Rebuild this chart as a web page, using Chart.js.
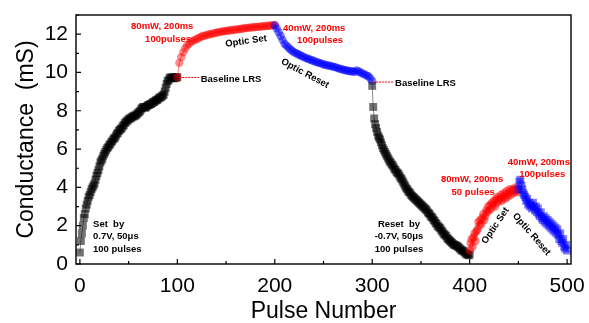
<!DOCTYPE html>
<html>
<head>
<meta charset="utf-8">
<script src="https://cdn.jsdelivr.net/npm/chart.js@4"></script>
<style>
  body { margin: 0; background: #fff; }
  #wrap { width: 589px; height: 323px; position: relative; }
</style>
</head>
<body>
<div id="wrap"><canvas id="pulse_chart"></canvas></div>
<script>
// ---- data ----
// electrical set, 0.7V 50us, pulses 0..100 (step 1)
var setStart = 0, setStep = 1;
var setValues = [0.6, 1.2, 1.6, 2.0, 2.4, 2.6, 2.9, 3.1, 3.3, 3.5,
  3.6, 3.75, 3.9, 4.0, 4.1, 4.2, 4.4, 4.6, 4.75, 4.9,
  5.1, 5.3, 5.4, 5.5, 5.65, 5.75, 5.85, 5.95, 6.05, 6.1,
  6.2, 6.25, 6.35, 6.4, 6.5, 6.55, 6.6, 6.7, 6.8, 6.85,
  6.95, 7.0, 7.05, 7.1, 7.2, 7.25, 7.35, 7.4, 7.45, 7.5,
  7.55, 7.6, 7.6, 7.65, 7.7, 7.7, 7.75, 7.75, 7.8, 7.85,
  7.9, 7.95, 8.0, 8.1, 8.15, 8.2, 8.2, 8.15, 8.2, 8.25,
  8.3, 8.3, 8.35, 8.35, 8.4, 8.45, 8.45, 8.5, 8.55, 8.55,
  8.6, 8.65, 8.7, 8.7, 8.75, 8.8, 8.85, 9.0, 9.2, 9.4,
  9.55, 9.6, 9.7, 9.75, 9.7, 9.75, 9.7, 9.75, 9.7, 9.75, 9.75];

// optic set 80mW, pulses 100..200 (step 2)
var optSetStart = 100, optSetStep = 2;
var optSetValues = [9.75, 10.5, 10.8, 11.05, 11.25, 11.4, 11.5, 11.6, 11.65, 11.7,
  11.75, 11.8, 11.85, 11.9, 11.92, 11.95, 11.98, 12.0, 12.03, 12.05,
  12.08, 12.1, 12.12, 12.14, 12.15, 12.17, 12.18, 12.2, 12.21, 12.22,
  12.24, 12.25, 12.27, 12.28, 12.3, 12.32, 12.33, 12.34, 12.35, 12.36,
  12.37, 12.38, 12.39, 12.4, 12.41, 12.42, 12.43, 12.44, 12.45, 12.47, 12.48];

// optic reset 40mW, pulses 200..300 (step 2)
var optResetStart = 200, optResetStep = 2;
var optResetValues = [12.45, 12.3, 12.1, 11.9, 11.7, 11.5, 11.4, 11.3, 11.2, 11.12,
  11.05, 11.0, 10.95, 10.9, 10.85, 10.8, 10.75, 10.72, 10.68, 10.64,
  10.6, 10.56, 10.52, 10.5, 10.46, 10.42, 10.4, 10.37, 10.35, 10.33,
  10.3, 10.28, 10.24, 10.2, 10.18, 10.15, 10.12, 10.1, 10.08, 10.06,
  10.05, 10.04, 10.1, 10.05, 10.0, 9.95, 9.9, 9.85, 9.8, 9.7, 9.55];

// electrical reset, -0.7V 50us, pulses 300..400 (step 1)
var resetStart = 300, resetStep = 1;
var resetValues = [9.3, 8.2, 7.6, 7.3, 7.1, 6.9, 6.7, 6.6, 6.5, 6.35,
  6.2, 6.05, 5.95, 5.85, 5.75, 5.65, 5.55, 5.45, 5.35, 5.3,
  5.2, 5.15, 5.05, 4.95, 4.9, 4.8, 4.75, 4.7, 4.6, 4.5,
  4.45, 4.35, 4.25, 4.15, 4.05, 3.95, 3.9, 3.8, 3.75, 3.7,
  3.6, 3.55, 3.5, 3.45, 3.4, 3.35, 3.3, 3.25, 3.2, 3.15,
  3.1, 3.05, 3.0, 2.95, 2.9, 2.85, 2.8, 2.7, 2.65, 2.6,
  2.5, 2.45, 2.4, 2.3, 2.25, 2.15, 2.1, 2.0, 1.95, 1.9,
  1.85, 1.75, 1.7, 1.6, 1.55, 1.5, 1.45, 1.35, 1.3, 1.25,
  1.2, 1.15, 1.1, 1.05, 1.0, 1.0, 0.95, 0.95, 0.9, 0.85,
  0.8, 0.75, 0.7, 0.7, 0.65, 0.6, 0.55, 0.5, 0.5, 0.45, 0.5];

// second optic set 80mW 50 pulses, 400..450 (step 1)
var optSet2Start = 400, optSet2Step = 1;
var optSet2Values = [0.7, 1.1, 1.3, 0.9, 1.4, 1.6, 1.2, 1.7, 1.8, 2.2,
  2.0, 2.3, 2.1, 2.4, 2.6, 2.3, 2.5, 2.8, 2.7, 3.0,
  2.8, 3.1, 2.9, 3.2, 3.1, 3.3, 3.0, 3.4, 3.2, 3.5,
  3.3, 3.4, 3.6, 3.3, 3.5, 3.7, 3.4, 3.6, 3.8, 3.5,
  3.7, 3.9, 3.6, 3.8, 3.9, 3.7, 3.85, 4.0, 3.75, 3.9, 3.85];

// second optic reset 40mW, 450..500 (step 1)
var optReset2Start = 450, optReset2Step = 1;
var optReset2Values = [3.9, 4.3, 4.4, 4.1, 3.9, 3.7, 3.6, 3.5, 3.3, 3.4,
  3.1, 3.2, 3.0, 3.1, 2.9, 3.2, 3.0, 2.8, 3.0, 2.7,
  2.9, 2.6, 2.5, 2.7, 2.4, 2.3, 2.5, 2.2, 2.4, 2.1,
  2.3, 2.0, 2.2, 1.9, 2.1, 1.8, 2.0, 1.7, 1.9, 1.6,
  1.8, 1.5, 1.3, 1.6, 1.2, 1.1, 1.3, 0.9, 0.8, 1.0, 0.7];

var xTicks = [0, 100, 200, 300, 400, 500];
var yTicks = [0, 2, 4, 6, 8, 10, 12];

// text labels on the plot, placed in data units
var notes = [
  { text: "80mW, 200ms", x: 84.5, y: 12.42, color: "#ff0000", rot: 0 },
  { text: "100pulses", x: 90.5, y: 11.74, color: "#ff0000", rot: 0 },
  { text: "Optic Set", x: 170.5, y: 11.63, color: "#000", rot: -8 },
  { text: "Baseline LRS", x: 124, y: 9.65, color: "#000", rot: 0, align: "left" },
  { text: "40mW, 200ms", x: 240.5, y: 12.31, color: "#ff0000", rot: 0 },
  { text: "100pulses", x: 246.5, y: 11.7, color: "#ff0000", rot: 0 },
  { text: "Optic Reset", x: 231, y: 9.95, color: "#000", rot: 28 },
  { text: "Baseline LRS", x: 323.5, y: 9.44, color: "#000", rot: 0, align: "left" },
  { text: "Set  by", x: 13.5, y: 2.05, color: "#000", rot: 0, align: "left" },
  { text: "0.7V, 50\u03bcs", x: 13.5, y: 1.42, color: "#000", rot: 0, align: "left" },
  { text: "100 pulses", x: 13.5, y: 0.78, color: "#000", rot: 0, align: "left" },
  { text: "Reset  by", x: 327.5, y: 2.05, color: "#000", rot: 0 },
  { text: "-0.7V, 50\u03bcs", x: 327.5, y: 1.42, color: "#000", rot: 0 },
  { text: "100 pulses", x: 327.5, y: 0.78, color: "#000", rot: 0 },
  { text: "80mW, 200ms", x: 402.5, y: 4.4, color: "#ff0000", rot: 0 },
  { text: "50 pulses", x: 403.5, y: 3.76, color: "#ff0000", rot: 0 },
  { text: "40mW, 200ms", x: 471, y: 5.31, color: "#ff0000", rot: 0 },
  { text: "100pulses", x: 474.5, y: 4.69, color: "#ff0000", rot: 0 },
  { text: "Optic Set", x: 426.5, y: 2.0, color: "#000", rot: -56 },
  { text: "Optic Reset", x: 463.5, y: 1.56, color: "#000", rot: 49 }
];
// red dotted leaders to "Baseline LRS"
var leaders = [
  { x1: 102, x2: 122.5, y: 9.74 },
  { x1: 301, x2: 322, y: 9.5 }
];

function toPoints(start, step, values) {
  return values.map(function(v, i) { return { x: start + i * step, y: v }; });
}

function seg(values, start, step, color, line, style, r, order) {
  return {
    data: toPoints(start, step, values),
    showLine: true,
    borderColor: line,
    borderWidth: 1,
    pointStyle: style,
    pointRadius: r,
    pointBackgroundColor: color,
    pointBorderWidth: 0,
    order: order
  };
}

var fontFam = "Arial, 'Liberation Sans', sans-serif";

var framePlugin = {
  id: 'frame',
  afterDatasetsDraw: function(chart) {
    var ctx = chart.ctx, a = chart.chartArea;
    var xs = chart.scales.x, ys = chart.scales.y;
    ctx.save();
    // dotted leaders
    ctx.strokeStyle = "#ff0000";
    ctx.lineWidth = 1;
    ctx.setLineDash([2, 1]);
    leaders.forEach(function(l) {
      ctx.beginPath();
      ctx.moveTo(xs.getPixelForValue(l.x1), ys.getPixelForValue(l.y));
      ctx.lineTo(xs.getPixelForValue(l.x2), ys.getPixelForValue(l.y));
      ctx.stroke();
    });
    ctx.setLineDash([]);
    // notes
    ctx.font = "bold 9.5px " + fontFam;
    ctx.textBaseline = "middle";
    notes.forEach(function(n) {
      ctx.save();
      ctx.translate(xs.getPixelForValue(n.x), ys.getPixelForValue(n.y));
      ctx.rotate(n.rot * Math.PI / 180);
      ctx.fillStyle = n.color;
      ctx.textAlign = n.align || "center";
      ctx.fillText(n.text, 0, 0);
      ctx.restore();
    });
    // box
    ctx.strokeStyle = "#000";
    ctx.lineWidth = 1.4;
    ctx.strokeRect(a.left, a.top, a.right - a.left, a.bottom - a.top);
    // inward ticks
    ctx.lineWidth = 1.2;
    ctx.beginPath();
    for (var v = 0; v <= 500; v += 50) {
      var px = xs.getPixelForValue(v);
      var len = (v % 100 === 0) ? 5 : 3;
      ctx.moveTo(px, a.bottom);
      ctx.lineTo(px, a.bottom - len);
    }
    for (var w = 0; w <= 13; w += 1) {
      var py = ys.getPixelForValue(w);
      var ln = (w % 2 === 0) ? 5 : 3;
      ctx.moveTo(a.left, py);
      ctx.lineTo(a.left + ln, py);
    }
    ctx.stroke();
    ctx.restore();
  }
};

var ctx = document.getElementById('pulse_chart').getContext('2d');
var myChart = new Chart(ctx, {
  type: 'scatter',
  data: {
    datasets: [
      seg(setValues, setStart, setStep, "rgba(0,0,0,0.55)", "rgba(0,0,0,0.45)", 'rect', 5.6, 6),
      seg(optSetValues, optSetStart, optSetStep, "rgba(255,0,0,0.45)", "rgba(255,0,0,0.5)", 'circle', 4.2, 5),
      seg(optResetValues, optResetStart, optResetStep, "rgba(0,0,255,0.5)", "rgba(0,0,255,0.5)", 'circle', 4.2, 4),
      seg(resetValues, resetStart, resetStep, "rgba(0,0,0,0.55)", "rgba(0,0,0,0.45)", 'rect', 5.6, 3),
      seg(optSet2Values, optSet2Start, optSet2Step, "rgba(255,0,0,0.5)", "rgba(255,0,0,0.5)", 'circle', 4.2, 2),
      seg(optReset2Values, optReset2Start, optReset2Step, "rgba(0,0,255,0.5)", "rgba(0,0,255,0.5)", 'rect', 5.6, 1)
    ]
  },
  options: {
    responsive: true,
    maintainAspectRatio: false,
    animation: false,
    events: [],
    layout: { padding: { top: 15, right: 18, left: 0, bottom: 0 } },
    plugins: { legend: { display: false }, tooltip: { enabled: false } },
    scales: {
      x: {
        type: 'linear',
        min: -4,
        max: 504,
        grid: { display: false },
        border: { display: false },
        afterFit: function(s) { s.height = 59; },
        afterBuildTicks: function(s) { s.ticks = xTicks.map(function(v) { return { value: v }; }); },
        ticks: { color: "#000", padding: 2, maxRotation: 0, font: { family: fontFam, size: 21 } },
        title: {
          display: true,
          text: "Pulse Number",
          color: "#000",
          padding: { top: 0, bottom: 0 },
          font: { family: fontFam, size: 23, lineHeight: 1 }
        }
      },
      y: {
        min: 0,
        max: 13,
        grid: { display: false },
        border: { display: false },
        afterFit: function(s) { s.width = 76; },
        afterBuildTicks: function(s) { s.ticks = yTicks.map(function(v) { return { value: v }; }); },
        ticks: { color: "#000", padding: 0, font: { family: fontFam, size: 21 } },
        title: {
          display: true,
          text: "Conductance  (mS)",
          color: "#000",
          padding: { top: 13, bottom: 0 },
          font: { family: fontFam, size: 23, lineHeight: 1.2 }
        }
      }
    }
  },
  plugins: [framePlugin]
});
</script>
</body>
</html>
